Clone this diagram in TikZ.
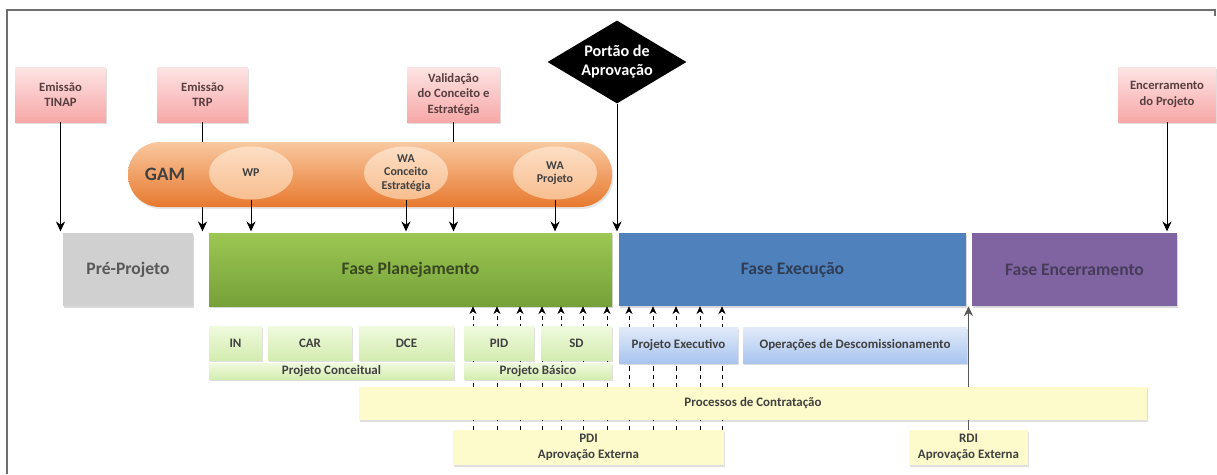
\documentclass[tikz,border=0pt]{standalone}
\usepackage{fontspec}
\setmainfont{Carlito}
\usepackage{xcolor}
\usetikzlibrary{arrows,arrows.meta,shapes,positioning,shadows}
\definecolor{framegray}{RGB}{110,110,110}
\definecolor{txtgray}{RGB}{64,64,64}
\definecolor{pinktext}{RGB}{88,62,62}
\definecolor{pinktop}{RGB}{253,228,228}
\definecolor{pinkbot}{RGB}{247,168,168}
\definecolor{gamtop}{RGB}{249,200,160}
\definecolor{gambot}{RGB}{231,121,46}
\definecolor{wptop}{RGB}{252,222,196}
\definecolor{wpbot}{RGB}{248,190,144}
\definecolor{pregray}{RGB}{208,208,208}
\definecolor{pretext}{RGB}{89,89,89}
\definecolor{plantop}{RGB}{156,199,82}
\definecolor{planbot}{RGB}{118,161,58}
\definecolor{plantext}{RGB}{58,72,34}
\definecolor{execblue}{RGB}{79,129,189}
\definecolor{exectext}{RGB}{48,60,84}
\definecolor{closepurple}{RGB}{128,100,162}
\definecolor{closetext}{RGB}{70,60,90}
\definecolor{greentop}{RGB}{240,250,222}
\definecolor{greenbot}{RGB}{212,236,176}
\definecolor{bluetop}{RGB}{226,235,250}
\definecolor{bluebot}{RGB}{168,196,238}
\definecolor{yellowbox}{RGB}{253,251,204}
\tikzset{boxsize/.style 2 args={minimum width=#1*0.025cm, minimum height=#2*0.025cm}}
\tikzstyle{milestone} = [inner sep=0pt, align=center, text=pinktext, top color=pinktop, bottom color=pinkbot, font=\fontsize{9}{10.8}\selectfont\bfseries, drop shadow={opacity=0.25, shadow xshift=1pt, shadow yshift=-1.5pt}]
\tikzstyle{gate} = [diamond, fill=black, text=white, inner sep=0pt, aspect=1.67, minimum width=3.475cm, minimum height=2.075cm, align=center, font=\fontsize{11.5}{13.5}\selectfont\bfseries]
\tikzstyle{phase} = [inner sep=0pt, font=\fontsize{12.5}{14}\selectfont\bfseries, drop shadow={opacity=0.3, shadow xshift=1pt, shadow yshift=-1.5pt}]
\tikzstyle{subbox} = [inner sep=0pt, align=center, text=txtgray, font=\fontsize{9.2}{11}\selectfont\bfseries, drop shadow={opacity=0.25, shadow xshift=1pt, shadow yshift=-1.5pt}]
\tikzstyle{gambar} = [inner sep=0pt, rounded corners=0.8cm, top color=gamtop, bottom color=gambot, drop shadow={opacity=0.2, shadow xshift=1pt, shadow yshift=-1.5pt}]
\tikzstyle{gamitem} = [ellipse, inner sep=0pt, minimum width=2.1cm, minimum height=1.325cm, align=center, text=txtgray, top color=wptop, bottom color=wpbot, font=\fontsize{8.5}{9.5}\selectfont\bfseries]
\tikzstyle{arrow} = [semithick,-{Stealth[length=7pt,width=6.5pt]},shorten >=1pt]
\tikzstyle{dasharrow} = [thin,dashed,-{Stealth[length=5.5pt,width=5pt]}]

\begin{document}
\begin{tikzpicture}[x=0.025cm, y=-0.025cm]
\useasboundingbox (0,0) rectangle (1217,474);
% Frame
\draw[framegray, line width=0.8pt] (7,474) -- (7,10) -- (1215,10) -- (1215,16);

% Milestones
\node[milestone, boxsize={91}{55}] (tinap) at (60.5,94.5) {Emissão\\TINAP};
\node[milestone, boxsize={91}{55}] (trp) at (202.5,94.5) {Emissão\\TRP};
\node[milestone, boxsize={93}{55}] (valid) at (453.5,94.5) {Validação\\do Conceito e\\Estratégia};
\node[milestone, boxsize={98}{55}] (encp) at (1167,94.5) {Encerramento\\do Projeto};
\node[gate] (gate) at (617,62) {Portão de\\Aprovação};

% Phases
\node[phase, boxsize={130}{73}, fill=pregray, text=pretext] (pre) at (128,269.5) {Pré-Projeto};
\node[phase, boxsize={403}{73}, top color=plantop, bottom color=planbot, text=plantext] (plan) at (410.5,269.5) {Fase Planejamento};
\node[phase, boxsize={347}{73}, fill=execblue, text=exectext] (exec) at (792.5,269.5) {Fase Execução};
\node[phase, boxsize={205}{73}, fill=closepurple, text=closetext] (close) at (1074.5,269.5) {Fase Encerramento};

% Arrows passing behind GAM
\draw[arrow] (trp.south) -- (trp.south |- plan.north);
\draw[arrow] (valid.south) -- (valid.south |- plan.north);

% GAM
\node[gambar, boxsize={484}{65}] (gam) at (370,174.5) {};
\node[anchor=west, text=txtgray, font=\fontsize{13.5}{15}\selectfont\bfseries] (gamlabel) at (140,174) {GAM};
\node[gamitem] (wp) at (251,173) {WP};
\node[gamitem] (wacon) at (406,173) {WA\\Conceito\\Estratégia};
\node[gamitem] (wapro) at (555,173) {WA\\Projeto};

% Arrows into phases
\draw[arrow] (tinap.south) -- (tinap.south |- pre.north);
\draw[arrow] (wp.south) -- (wp.south |- plan.north);
\draw[arrow] (wacon.south) -- (wacon.south |- plan.north);
\draw[arrow] (wapro.south) -- (wapro.south |- plan.north);
\draw[arrow] (gate.south) -- (gate.south |- plan.north);
\draw[arrow] (encp.south) -- (encp.south |- close.north);

% External approvals
\node[subbox, boxsize={271}{35}, fill=yellowbox] (pdi) at (588.5,447.5) {PDI\\Aprovação Externa};
\node[subbox, boxsize={119}{35}, fill=yellowbox] (rdi) at (968.5,447.5) {RDI\\Aprovação Externa};

% Dashed arrows (behind boxes)
\foreach \x in {473,497,520,542,561,583,607} {
    \path (\x,0) coordinate (dx);
    \draw[dasharrow] (pdi.north -| dx) -- (dx |- plan.south);
}
\foreach \x in {629,653,676,700,722} {
    \path (\x,0) coordinate (dx);
    \draw[dasharrow] (pdi.north -| dx) -- (dx |- exec.south);
}
\draw[arrow, draw=pretext, shorten >=0pt] (rdi.north) -- (rdi.north |- exec.south);

% Sub boxes
\node[subbox, boxsize={53}{34}, top color=greentop, bottom color=greenbot] (in) at (235.5,343) {IN};
\node[subbox, boxsize={84}{34}, top color=greentop, bottom color=greenbot] (car) at (310,343) {CAR};
\node[subbox, boxsize={95}{34}, top color=greentop, bottom color=greenbot] (dce) at (406.5,343) {DCE};
\node[subbox, boxsize={70}{34}, top color=greentop, bottom color=greenbot] (pid) at (499,343) {PID};
\node[subbox, boxsize={71}{34}, top color=greentop, bottom color=greenbot] (sd) at (576.5,343) {SD};
\node[subbox, boxsize={245}{16}, top color=greentop, bottom color=greenbot] (pconc) at (331.5,371) {Projeto Conceitual};
\node[subbox, boxsize={148}{16}, top color=greentop, bottom color=greenbot] (pbas) at (538,371) {Projeto Básico};
\node[subbox, boxsize={119}{36}, top color=bluetop, bottom color=bluebot] (pexec) at (678.5,345) {Projeto Executivo};
\node[subbox, boxsize={224}{36}, top color=bluetop, bottom color=bluebot] (descom) at (855,345) {Operações de Descomissionamento};
\node[subbox, boxsize={788}{33}, fill=yellowbox] (contr) at (753,403.5) {Processos de Contratação};
\end{tikzpicture}
\end{document}
